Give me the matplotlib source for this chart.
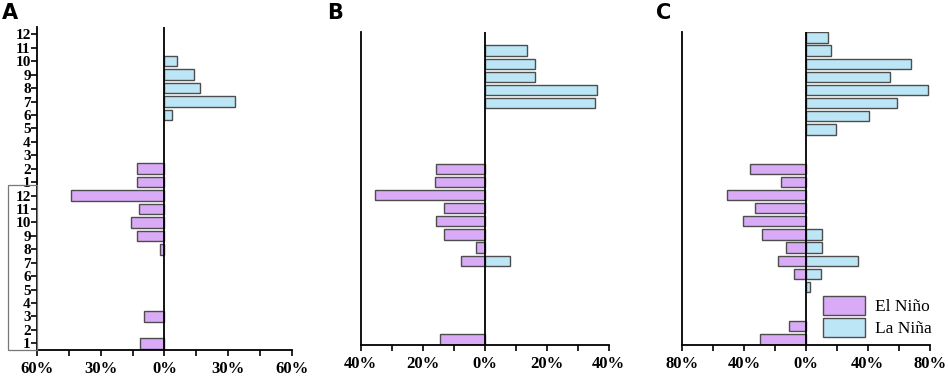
import matplotlib.pyplot as plt
from matplotlib.patches import Rectangle, Patch
import numpy as np

# rows: first year months 1-12, then second year months 1-12
months = list(range(1, 13)) + list(range(1, 13))

# panel A (percent)
elnino_a = [11.4, 0, 9.7, 0, 0, 0, 0, 2.2, 12.7, 15.6, 12, 44,
            12.8, 12.8, 0, 0, 0, 0, 0, 0, 0, 0, 0, 0]
lanina_a = [0, 0, 0, 0, 0, 0, 0, 0, 0, 0, 0, 0,
            0, 0, 0, 0, 0, 3.4, 33, 16.5, 13.7, 6, 0, 0]

# panel B
elnino_b = [14.5, 0, 0, 0, 0, 0, 7.8, 2.7, 13, 15.8, 13, 35.5,
            16.1, 15.8, 0, 0, 0, 0, 0, 0, 0, 0, 0, 0]
lanina_b = [0, 0, 0, 0, 0, 0, 8.3, 0, 0, 0, 0, 0,
            0, 0, 0, 0, 0, 0, 35.6, 36.1, 16.1, 16.1, 13.5, 0]

# panel C
elnino_c = [29.5, 11.2, 0, 0, 0, 7.7, 17.9, 12.9, 28, 40.6, 33, 51,
            16, 36, 0, 0, 0, 0, 0, 0, 0, 0, 0, 0]
lanina_c = [0, 0, 0, 0, 3, 9.7, 33.7, 10.7, 10.7, 0, 0, 0,
            0, 0, 0, 0, 19.3, 41, 58.7, 79, 54.4, 67.7, 16.3, 14]

xmax_list = [60, 40, 80]

c_el = '#D9AAF6'
c_la = '#BCE5F6'
edge = '#4d4d4d'

fig = plt.figure(figsize=(9.48, 3.77), dpi=100)

positions = [[0.039, 0.0716, 0.269, 0.8576],
             [0.3805, 0.0849, 0.2616, 0.831],
             [0.7194, 0.0849, 0.2613, 0.831]]
ylims = [(-0.5, 23.57), (-0.42, 23.44), (-0.42, 23.44)]

data = [(elnino_a, lanina_a), (elnino_b, lanina_b), (elnino_c, lanina_c)]

for i in range(3):
    ax = fig.add_axes(positions[i])
    el, la = data[i]
    rows = np.arange(24)
    el = np.array(el)
    la = np.array(la)
    m = el > 0
    ax.barh(rows[m], -el[m], height=0.78, color=c_el, edgecolor=edge, linewidth=1)
    m = la > 0
    ax.barh(rows[m], la[m], height=0.78, color=c_la, edgecolor=edge, linewidth=1)
    ax.axvline(0, color='black', lw=1.3, zorder=3)

    xm = xmax_list[i]
    ax.set_xlim(-xm, xm)
    ax.set_ylim(*ylims[i])
    ticks = [-xm, -xm / 2, 0, xm / 2, xm]
    ax.set_xticks(ticks)
    ax.set_xticklabels(['%d%%' % abs(t) for t in ticks],
                       fontfamily='Liberation Serif', fontweight='bold', fontsize=12)
    ax.set_xticks([-3 * xm / 4, -xm / 4, xm / 4, 3 * xm / 4], minor=True)
    ax.tick_params(axis='x', which='both', direction='out', length=4, width=1.2, pad=4)
    for s in ['top', 'right']:
        ax.spines[s].set_visible(False)
    ax.spines['left'].set_linewidth(1.3)
    ax.spines['bottom'].set_linewidth(1.3)

    if i == 0:
        ax.set_yticks(rows)
        ax.set_yticklabels([str(mo) for mo in months],
                           fontfamily='Liberation Serif', fontweight='bold', fontsize=11)
        ax.tick_params(axis='y', direction='out', length=4, width=1.2, pad=0.5)
    else:
        ax.set_yticks([])

    if i == 2:
        handles = [Patch(facecolor=c_el, edgecolor=edge, label='El Niño'),
                   Patch(facecolor=c_la, edgecolor=edge, label='La Niña')]
        fig.legend(handles=handles, loc='upper left', bbox_to_anchor=(0.868, 0.215),
                   frameon=False, prop={'family': 'Liberation Serif', 'size': 12.5},
                   handlelength=2.4, handleheight=1.3, handletextpad=0.6,
                   labelspacing=0.15, borderaxespad=0, borderpad=0)

# panel letters
fig.text(0.002, 0.965, 'A', fontsize=15, fontweight='bold', va='center', ha='left')
fig.text(0.345, 0.965, 'B', fontsize=15, fontweight='bold', va='center', ha='left')
fig.text(0.692, 0.965, 'C', fontsize=15, fontweight='bold', va='center', ha='left')

# bracket around the first-year month labels
fig.patches.append(Rectangle((8 / 948, 27 / 377), 29 / 948, 165 / 377,
                             transform=fig.transFigure, fill=False,
                             edgecolor='#777777', linewidth=0.9))

fig.savefig('out.png', dpi=100)
